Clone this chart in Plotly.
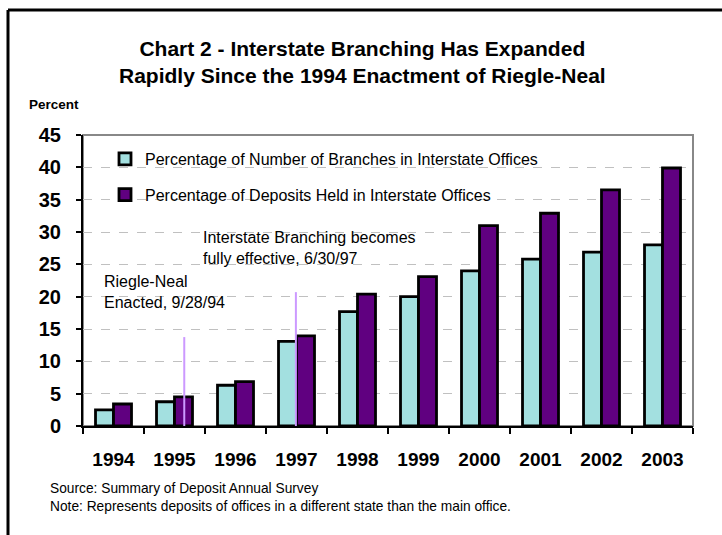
import plotly.graph_objects as go

years = ["1994", "1995", "1996", "1997", "1998", "1999", "2000", "2001", "2002", "2003"]
branches_pct = [2.5, 3.75, 6.3, 13.1, 17.7, 20.0, 24.0, 25.8, 26.9, 28.0]
deposits_pct = [3.4, 4.5, 6.85, 13.95, 20.4, 23.1, 31.0, 32.9, 36.5, 39.9]
series_names = ["Percentage of Number of Branches in Interstate Offices",
                "Percentage of Deposits Held in Interstate Offices"]
event_x = [1.16, 2.99]
event_top = [13.75, 20.7]

W, H = 722, 535
L, R, T, B = 83, 693, 135, 426
def px(x): return (x - L) / (R - L)
def py(y): return (B - y) / (B - T)

FONT = "Arial, Liberation Sans, sans-serif"
CYAN = "#a3e0e0"
PURPLE = "#600080"
LAV = "#cc99ff"

fig = go.Figure()
fig.add_bar(x=years, y=branches_pct, name=series_names[0], legendgroup="a",
            marker=dict(color=CYAN, line=dict(color="black", width=2.8)))
fig.add_bar(x=years, y=deposits_pct, name=series_names[1], legendgroup="b",
            marker=dict(color=PURPLE, line=dict(color="black", width=2.8)))

shapes = []
shapes.append(dict(type="rect", xref="paper", yref="paper", x0=0, x1=1, y0=0, y1=1,
                   line=dict(color="#888888", width=2), layer="below"))
for xv, top in zip(event_x, event_top):
    shapes.append(dict(type="line", xref="x", yref="y", x0=xv, x1=xv, y0=-0.5, y1=top,
                       line=dict(color=LAV, width=2), layer="above"))
shapes.append(dict(type="line", xref="paper", yref="paper", x0=px(8), x1=px(722),
                   y0=py(10), y1=py(10), line=dict(color="black", width=3)))
shapes.append(dict(type="line", xref="paper", yref="paper", x0=px(8), x1=px(8),
                   y0=py(10), y1=py(535), line=dict(color="black", width=3)))

ann = []
ann.append(dict(text="<b>Chart 2 - Interstate Branching Has Expanded<br>Rapidly Since the 1994 Enactment of Riegle-Neal</b>",
                xref="paper", yref="paper", x=px(362), y=py(62), xanchor="center", yanchor="middle",
                showarrow=False, font=dict(size=21, family=FONT, color="black"), align="center"))
ann.append(dict(text="<b>Percent</b>", xref="paper", yref="paper", x=px(27), y=py(105),
                xanchor="left", yanchor="middle", showarrow=False,
                font=dict(size=13.5, family=FONT, color="black")))
ann.append(dict(text="Riegle-Neal<br>Enacted, 9/28/94", xref="paper", yref="paper",
                x=px(102), y=py(292), xanchor="left", yanchor="middle", showarrow=False, align="left",
                font=dict(size=16, family=FONT, color="black")))
ann.append(dict(text="Interstate Branching becomes<br>fully effective, 6/30/97", xref="paper", yref="paper",
                x=px(201), y=py(248), xanchor="left", yanchor="middle", showarrow=False, align="left",
                font=dict(size=16, family=FONT, color="black")))
ann.append(dict(text="Source: Summary of Deposit Annual Survey<br>Note: Represents deposits of offices in a different state than the main office.",
                xref="paper", yref="paper", x=px(48), y=py(497), xanchor="left", yanchor="middle",
                showarrow=False, align="left", font=dict(size=13.75, family=FONT, color="black")))

fig.update_layout(
    width=W, height=H, margin=dict(l=L, r=W - R, t=T, b=H - B, pad=0),
    paper_bgcolor="white", plot_bgcolor="white",
    barmode="group", bargap=0.41, bargroupgap=0,
    font=dict(family=FONT, color="black"),
    showlegend=True,
    legend=dict(x=px(105), y=py(142), xanchor="left", yanchor="top", bgcolor="rgba(0,0,0,0)",
                font=dict(size=16, family=FONT, color="black"), traceorder="grouped",
                tracegroupgap=12, itemclick=False),
    shapes=shapes, annotations=ann,
)
fig.update_xaxes(type="category", showline=True, linecolor="black", linewidth=2,
                 ticks="outside", tickson="boundaries", ticklen=6, tickcolor="black", tickwidth=1.5,
                 tickfont=dict(size=19, family=FONT, weight="bold", color="black"),
                 ticklabelstandoff=15, showgrid=False)
fig.update_yaxes(range=[0, 45], dtick=5, showline=True, linecolor="black", linewidth=2,
                 ticks="outside", ticklen=5, tickcolor="black", tickwidth=1.5,
                 tickfont=dict(size=20, family=FONT, weight="bold", color="black"),
                 ticklabelstandoff=11, showgrid=True, gridcolor="#c0c0c0", griddash="dash",
                 gridwidth=1, zeroline=False)

fig.write_html("out.html")
